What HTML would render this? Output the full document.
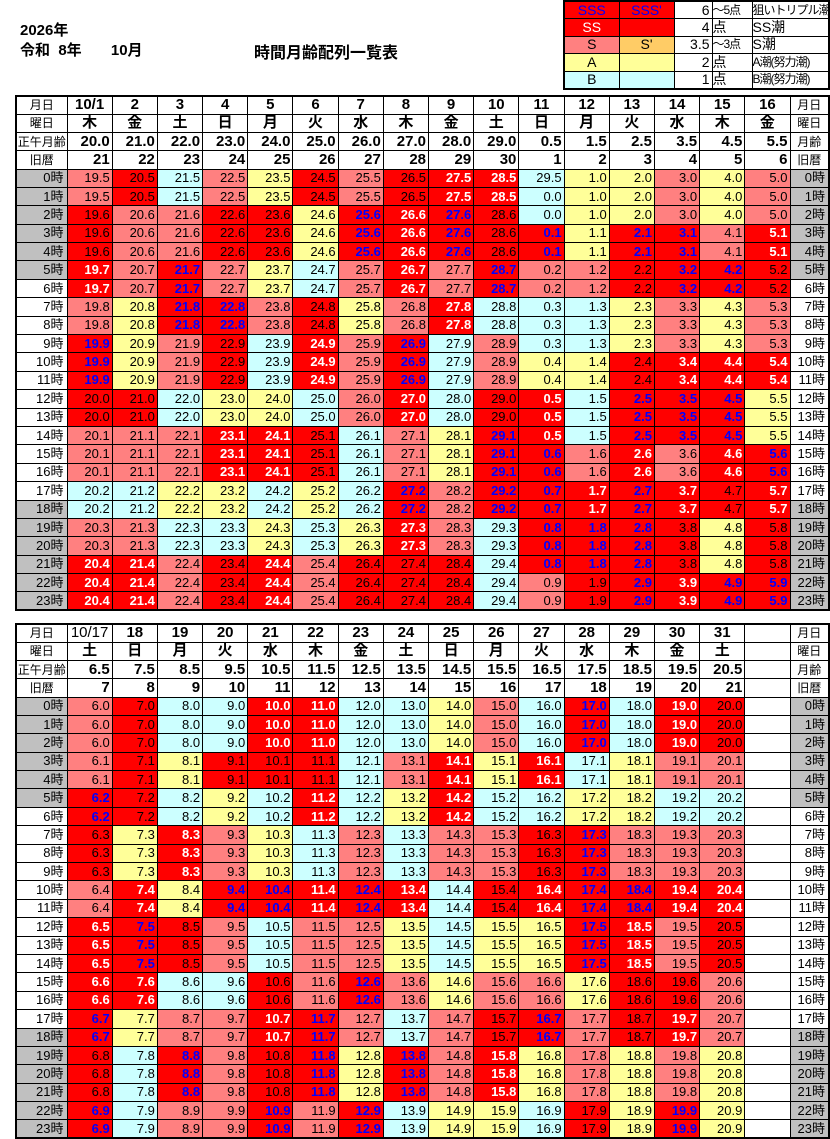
<!DOCTYPE html>
<html><head><meta charset="utf-8">
<style>
*{margin:0;padding:0;box-sizing:border-box}
body{width:830px;height:1138px;background:#fff;position:relative;overflow:hidden;font-family:"Liberation Sans","Noto Sans CJK JP",sans-serif;color:#000}
.t{position:absolute;font-weight:bold}
table{border-collapse:collapse;position:absolute;table-layout:fixed}
.m{left:15px;width:813px;border:2px solid #000}
.m td{border:1px solid #000;font-size:13px;text-align:right;padding:0 2px 0 0;line-height:16px;white-space:nowrap;overflow:hidden}
.m tr.h td{height:18.25px;font-weight:bold;font-size:15px}
.m tr.h td.l{font-weight:normal;font-size:12px;text-align:center;padding:0}
.m tr.d td{height:18.4px}
.m td.cn{text-align:center;padding:0}
.m td.k{text-align:center;font-size:16px;padding:0}
.m td.l{text-align:center;padding:0;font-size:12px}
.m td.hl{font-size:13px;padding-right:3px}
.g{background:#c0c0c0}
.p{background:#ff8080}
.r{background:#ff0000}
.w{background:#ff0000;color:#fff;font-weight:bold}
.b{background:#ff0000;color:#0000ff;font-weight:bold}
.y{background:#ffff99}
.c{background:#ccffff}
.o{background:#ffcc66}
.lg{left:563px;top:0;width:267px;border:2px solid #000}
.lg td{border:1px solid #000;height:17.6px;font-size:14px;line-height:15px;white-space:nowrap;overflow:hidden}
.lg td.x{font-size:12px;letter-spacing:-1px}
</style></head><body>
<div class="t" style="left:20px;top:19px;font-size:15px">2026年</div>
<div class="t" style="left:20px;top:39px;font-size:15px">令和&nbsp; 8年&nbsp;&nbsp;&nbsp;&nbsp;&nbsp;&nbsp; 10月</div>
<div class="t" style="left:254px;top:39px;font-size:16px">時間月齢配列一覧表</div>

<table class="lg">
<colgroup><col style="width:55px"><col style="width:55px"><col style="width:38px"><col style="width:40px"><col></colgroup>
<tr><td class="r" style="color:#00f;text-align:center">SSS</td><td class="r" style="color:#00f;text-align:center">SSS'</td><td style="text-align:right;padding-right:2px">6</td><td class="x">～5点</td><td class="x">狙いトリプル潮</td></tr>
<tr><td class="r" style="color:#fff;text-align:center">SS</td><td class="r"></td><td style="text-align:right;padding-right:2px">4</td><td>点</td><td>SS潮</td></tr>
<tr><td class="p" style="text-align:center">S</td><td class="o" style="text-align:center">S'</td><td style="text-align:right;padding-right:2px">3.5</td><td class="x">～3点</td><td>S潮</td></tr>
<tr><td class="y" style="text-align:center">A</td><td class="y"></td><td style="text-align:right;padding-right:2px">2</td><td>点</td><td class="x">A潮(努力潮)</td></tr>
<tr><td class="c" style="text-align:center">B</td><td class="c"></td><td style="text-align:right;padding-right:2px">1</td><td>点</td><td class="x">B潮(努力潮)</td></tr>
</table>

<table class="m" style="top:95px">
<colgroup><col style="width:51px"><col span="16" style="width:45.1875px"><col style="width:39px"></colgroup>
<tr class="h"><td class="l">月日</td><td class="cn">10/1</td><td class="cn">2</td><td class="cn">3</td><td class="cn">4</td><td class="cn">5</td><td class="cn">6</td><td class="cn">7</td><td class="cn">8</td><td class="cn">9</td><td class="cn">10</td><td class="cn">11</td><td class="cn">12</td><td class="cn">13</td><td class="cn">14</td><td class="cn">15</td><td class="cn">16</td><td class="l">月日</td></tr>
<tr class="h"><td class="l">曜日</td><td class="k">木</td><td class="k">金</td><td class="k">土</td><td class="k">日</td><td class="k">月</td><td class="k">火</td><td class="k">水</td><td class="k">木</td><td class="k">金</td><td class="k">土</td><td class="k">日</td><td class="k">月</td><td class="k">火</td><td class="k">水</td><td class="k">木</td><td class="k">金</td><td class="l">曜日</td></tr>
<tr class="h"><td class="l">正午月齢</td><td>20.0</td><td>21.0</td><td>22.0</td><td>23.0</td><td>24.0</td><td>25.0</td><td>26.0</td><td>27.0</td><td>28.0</td><td>29.0</td><td>0.5</td><td>1.5</td><td>2.5</td><td>3.5</td><td>4.5</td><td>5.5</td><td class="l">月齢</td></tr>
<tr class="h"><td class="l">旧暦</td><td>21</td><td>22</td><td>23</td><td>24</td><td>25</td><td>26</td><td>27</td><td>28</td><td>29</td><td>30</td><td>1</td><td>2</td><td>3</td><td>4</td><td>5</td><td>6</td><td class="l">旧暦</td></tr>
<tr class="d"><td class="hl g">0時</td><td class="p">19.5</td><td class="r">20.5</td><td class="c">21.5</td><td class="p">22.5</td><td class="y">23.5</td><td class="r">24.5</td><td class="p">25.5</td><td class="r">26.5</td><td class="w">27.5</td><td class="w">28.5</td><td class="c">29.5</td><td class="y">1.0</td><td class="y">2.0</td><td class="p">3.0</td><td class="y">4.0</td><td class="p">5.0</td><td class="hl g">0時</td></tr>
<tr class="d"><td class="hl g">1時</td><td class="p">19.5</td><td class="r">20.5</td><td class="c">21.5</td><td class="p">22.5</td><td class="y">23.5</td><td class="r">24.5</td><td class="p">25.5</td><td class="r">26.5</td><td class="w">27.5</td><td class="w">28.5</td><td class="c">0.0</td><td class="y">1.0</td><td class="y">2.0</td><td class="p">3.0</td><td class="y">4.0</td><td class="p">5.0</td><td class="hl g">1時</td></tr>
<tr class="d"><td class="hl g">2時</td><td class="r">19.6</td><td class="p">20.6</td><td class="p">21.6</td><td class="r">22.6</td><td class="r">23.6</td><td class="y">24.6</td><td class="b">25.6</td><td class="w">26.6</td><td class="b">27.6</td><td class="r">28.6</td><td class="c">0.0</td><td class="y">1.0</td><td class="y">2.0</td><td class="p">3.0</td><td class="y">4.0</td><td class="p">5.0</td><td class="hl g">2時</td></tr>
<tr class="d"><td class="hl g">3時</td><td class="r">19.6</td><td class="p">20.6</td><td class="p">21.6</td><td class="r">22.6</td><td class="r">23.6</td><td class="y">24.6</td><td class="b">25.6</td><td class="w">26.6</td><td class="b">27.6</td><td class="r">28.6</td><td class="b">0.1</td><td class="y">1.1</td><td class="b">2.1</td><td class="b">3.1</td><td class="p">4.1</td><td class="w">5.1</td><td class="hl g">3時</td></tr>
<tr class="d"><td class="hl g">4時</td><td class="r">19.6</td><td class="p">20.6</td><td class="p">21.6</td><td class="r">22.6</td><td class="r">23.6</td><td class="y">24.6</td><td class="b">25.6</td><td class="w">26.6</td><td class="b">27.6</td><td class="r">28.6</td><td class="b">0.1</td><td class="y">1.1</td><td class="b">2.1</td><td class="b">3.1</td><td class="p">4.1</td><td class="w">5.1</td><td class="hl g">4時</td></tr>
<tr class="d"><td class="hl g">5時</td><td class="w">19.7</td><td class="p">20.7</td><td class="b">21.7</td><td class="p">22.7</td><td class="y">23.7</td><td class="c">24.7</td><td class="p">25.7</td><td class="w">26.7</td><td class="p">27.7</td><td class="b">28.7</td><td class="p">0.2</td><td class="p">1.2</td><td class="r">2.2</td><td class="b">3.2</td><td class="b">4.2</td><td class="r">5.2</td><td class="hl g">5時</td></tr>
<tr class="d"><td class="hl">6時</td><td class="w">19.7</td><td class="p">20.7</td><td class="b">21.7</td><td class="p">22.7</td><td class="y">23.7</td><td class="c">24.7</td><td class="p">25.7</td><td class="w">26.7</td><td class="p">27.7</td><td class="b">28.7</td><td class="p">0.2</td><td class="p">1.2</td><td class="r">2.2</td><td class="b">3.2</td><td class="b">4.2</td><td class="r">5.2</td><td class="hl">6時</td></tr>
<tr class="d"><td class="hl">7時</td><td class="p">19.8</td><td class="y">20.8</td><td class="b">21.8</td><td class="b">22.8</td><td class="p">23.8</td><td class="r">24.8</td><td class="y">25.8</td><td class="p">26.8</td><td class="w">27.8</td><td class="c">28.8</td><td class="c">0.3</td><td class="c">1.3</td><td class="y">2.3</td><td class="p">3.3</td><td class="y">4.3</td><td class="p">5.3</td><td class="hl">7時</td></tr>
<tr class="d"><td class="hl">8時</td><td class="p">19.8</td><td class="y">20.8</td><td class="b">21.8</td><td class="b">22.8</td><td class="p">23.8</td><td class="r">24.8</td><td class="y">25.8</td><td class="p">26.8</td><td class="w">27.8</td><td class="c">28.8</td><td class="c">0.3</td><td class="c">1.3</td><td class="y">2.3</td><td class="p">3.3</td><td class="y">4.3</td><td class="p">5.3</td><td class="hl">8時</td></tr>
<tr class="d"><td class="hl">9時</td><td class="b">19.9</td><td class="y">20.9</td><td class="p">21.9</td><td class="r">22.9</td><td class="c">23.9</td><td class="w">24.9</td><td class="p">25.9</td><td class="b">26.9</td><td class="c">27.9</td><td class="p">28.9</td><td class="c">0.3</td><td class="c">1.3</td><td class="y">2.3</td><td class="p">3.3</td><td class="y">4.3</td><td class="p">5.3</td><td class="hl">9時</td></tr>
<tr class="d"><td class="hl">10時</td><td class="b">19.9</td><td class="y">20.9</td><td class="p">21.9</td><td class="r">22.9</td><td class="c">23.9</td><td class="w">24.9</td><td class="p">25.9</td><td class="b">26.9</td><td class="c">27.9</td><td class="p">28.9</td><td class="y">0.4</td><td class="y">1.4</td><td class="r">2.4</td><td class="w">3.4</td><td class="w">4.4</td><td class="w">5.4</td><td class="hl">10時</td></tr>
<tr class="d"><td class="hl">11時</td><td class="b">19.9</td><td class="y">20.9</td><td class="p">21.9</td><td class="r">22.9</td><td class="c">23.9</td><td class="w">24.9</td><td class="p">25.9</td><td class="b">26.9</td><td class="c">27.9</td><td class="p">28.9</td><td class="y">0.4</td><td class="y">1.4</td><td class="r">2.4</td><td class="w">3.4</td><td class="w">4.4</td><td class="w">5.4</td><td class="hl">11時</td></tr>
<tr class="d"><td class="hl">12時</td><td class="r">20.0</td><td class="r">21.0</td><td class="c">22.0</td><td class="y">23.0</td><td class="y">24.0</td><td class="c">25.0</td><td class="p">26.0</td><td class="w">27.0</td><td class="c">28.0</td><td class="r">29.0</td><td class="w">0.5</td><td class="c">1.5</td><td class="b">2.5</td><td class="b">3.5</td><td class="b">4.5</td><td class="y">5.5</td><td class="hl">12時</td></tr>
<tr class="d"><td class="hl">13時</td><td class="r">20.0</td><td class="r">21.0</td><td class="c">22.0</td><td class="y">23.0</td><td class="y">24.0</td><td class="c">25.0</td><td class="p">26.0</td><td class="w">27.0</td><td class="c">28.0</td><td class="r">29.0</td><td class="w">0.5</td><td class="c">1.5</td><td class="b">2.5</td><td class="b">3.5</td><td class="b">4.5</td><td class="y">5.5</td><td class="hl">13時</td></tr>
<tr class="d"><td class="hl">14時</td><td class="p">20.1</td><td class="p">21.1</td><td class="p">22.1</td><td class="w">23.1</td><td class="w">24.1</td><td class="r">25.1</td><td class="c">26.1</td><td class="p">27.1</td><td class="y">28.1</td><td class="b">29.1</td><td class="w">0.5</td><td class="c">1.5</td><td class="b">2.5</td><td class="b">3.5</td><td class="b">4.5</td><td class="y">5.5</td><td class="hl">14時</td></tr>
<tr class="d"><td class="hl">15時</td><td class="p">20.1</td><td class="p">21.1</td><td class="p">22.1</td><td class="w">23.1</td><td class="w">24.1</td><td class="r">25.1</td><td class="c">26.1</td><td class="p">27.1</td><td class="y">28.1</td><td class="b">29.1</td><td class="b">0.6</td><td class="p">1.6</td><td class="w">2.6</td><td class="p">3.6</td><td class="w">4.6</td><td class="b">5.6</td><td class="hl">15時</td></tr>
<tr class="d"><td class="hl">16時</td><td class="p">20.1</td><td class="p">21.1</td><td class="p">22.1</td><td class="w">23.1</td><td class="w">24.1</td><td class="r">25.1</td><td class="c">26.1</td><td class="p">27.1</td><td class="y">28.1</td><td class="b">29.1</td><td class="b">0.6</td><td class="p">1.6</td><td class="w">2.6</td><td class="p">3.6</td><td class="w">4.6</td><td class="b">5.6</td><td class="hl">16時</td></tr>
<tr class="d"><td class="hl">17時</td><td class="c">20.2</td><td class="c">21.2</td><td class="y">22.2</td><td class="y">23.2</td><td class="c">24.2</td><td class="y">25.2</td><td class="c">26.2</td><td class="b">27.2</td><td class="p">28.2</td><td class="b">29.2</td><td class="b">0.7</td><td class="w">1.7</td><td class="b">2.7</td><td class="w">3.7</td><td class="r">4.7</td><td class="w">5.7</td><td class="hl">17時</td></tr>
<tr class="d"><td class="hl g">18時</td><td class="c">20.2</td><td class="c">21.2</td><td class="y">22.2</td><td class="y">23.2</td><td class="c">24.2</td><td class="y">25.2</td><td class="c">26.2</td><td class="b">27.2</td><td class="p">28.2</td><td class="b">29.2</td><td class="b">0.7</td><td class="w">1.7</td><td class="b">2.7</td><td class="w">3.7</td><td class="r">4.7</td><td class="w">5.7</td><td class="hl g">18時</td></tr>
<tr class="d"><td class="hl g">19時</td><td class="p">20.3</td><td class="p">21.3</td><td class="c">22.3</td><td class="c">23.3</td><td class="y">24.3</td><td class="c">25.3</td><td class="y">26.3</td><td class="w">27.3</td><td class="p">28.3</td><td class="c">29.3</td><td class="b">0.8</td><td class="b">1.8</td><td class="b">2.8</td><td class="r">3.8</td><td class="y">4.8</td><td class="r">5.8</td><td class="hl g">19時</td></tr>
<tr class="d"><td class="hl g">20時</td><td class="p">20.3</td><td class="p">21.3</td><td class="c">22.3</td><td class="c">23.3</td><td class="y">24.3</td><td class="c">25.3</td><td class="y">26.3</td><td class="w">27.3</td><td class="p">28.3</td><td class="c">29.3</td><td class="b">0.8</td><td class="b">1.8</td><td class="b">2.8</td><td class="r">3.8</td><td class="y">4.8</td><td class="r">5.8</td><td class="hl g">20時</td></tr>
<tr class="d"><td class="hl g">21時</td><td class="w">20.4</td><td class="w">21.4</td><td class="p">22.4</td><td class="r">23.4</td><td class="w">24.4</td><td class="p">25.4</td><td class="r">26.4</td><td class="r">27.4</td><td class="r">28.4</td><td class="c">29.4</td><td class="b">0.8</td><td class="b">1.8</td><td class="b">2.8</td><td class="r">3.8</td><td class="y">4.8</td><td class="r">5.8</td><td class="hl g">21時</td></tr>
<tr class="d"><td class="hl g">22時</td><td class="w">20.4</td><td class="w">21.4</td><td class="p">22.4</td><td class="r">23.4</td><td class="w">24.4</td><td class="p">25.4</td><td class="r">26.4</td><td class="r">27.4</td><td class="r">28.4</td><td class="c">29.4</td><td class="p">0.9</td><td class="r">1.9</td><td class="b">2.9</td><td class="w">3.9</td><td class="b">4.9</td><td class="b">5.9</td><td class="hl g">22時</td></tr>
<tr class="d"><td class="hl g">23時</td><td class="w">20.4</td><td class="w">21.4</td><td class="p">22.4</td><td class="r">23.4</td><td class="w">24.4</td><td class="p">25.4</td><td class="r">26.4</td><td class="r">27.4</td><td class="r">28.4</td><td class="c">29.4</td><td class="p">0.9</td><td class="r">1.9</td><td class="b">2.9</td><td class="w">3.9</td><td class="b">4.9</td><td class="b">5.9</td><td class="hl g">23時</td></tr>
</table>

<table class="m" style="top:623px">
<colgroup><col style="width:51px"><col span="16" style="width:45.1875px"><col style="width:39px"></colgroup>
<tr class="h"><td class="l">月日</td><td class="cn" style="font-weight:normal">10/17</td><td class="cn">18</td><td class="cn">19</td><td class="cn">20</td><td class="cn">21</td><td class="cn">22</td><td class="cn">23</td><td class="cn">24</td><td class="cn">25</td><td class="cn">26</td><td class="cn">27</td><td class="cn">28</td><td class="cn">29</td><td class="cn">30</td><td class="cn">31</td><td></td><td class="l">月日</td></tr>
<tr class="h"><td class="l">曜日</td><td class="k">土</td><td class="k">日</td><td class="k">月</td><td class="k">火</td><td class="k">水</td><td class="k">木</td><td class="k">金</td><td class="k">土</td><td class="k">日</td><td class="k">月</td><td class="k">火</td><td class="k">水</td><td class="k">木</td><td class="k">金</td><td class="k">土</td><td></td><td class="l">曜日</td></tr>
<tr class="h"><td class="l">正午月齢</td><td>6.5</td><td>7.5</td><td>8.5</td><td>9.5</td><td>10.5</td><td>11.5</td><td>12.5</td><td>13.5</td><td>14.5</td><td>15.5</td><td>16.5</td><td>17.5</td><td>18.5</td><td>19.5</td><td>20.5</td><td></td><td class="l">月齢</td></tr>
<tr class="h"><td class="l">旧暦</td><td>7</td><td>8</td><td>9</td><td>10</td><td>11</td><td>12</td><td>13</td><td>14</td><td>15</td><td>16</td><td>17</td><td>18</td><td>19</td><td>20</td><td>21</td><td></td><td class="l">旧暦</td></tr>
<tr class="d"><td class="hl g">0時</td><td class="p">6.0</td><td class="r">7.0</td><td class="c">8.0</td><td class="c">9.0</td><td class="w">10.0</td><td class="w">11.0</td><td class="c">12.0</td><td class="c">13.0</td><td class="y">14.0</td><td class="p">15.0</td><td class="c">16.0</td><td class="b">17.0</td><td class="c">18.0</td><td class="w">19.0</td><td class="r">20.0</td><td></td><td class="hl g">0時</td></tr>
<tr class="d"><td class="hl g">1時</td><td class="p">6.0</td><td class="r">7.0</td><td class="c">8.0</td><td class="c">9.0</td><td class="w">10.0</td><td class="w">11.0</td><td class="c">12.0</td><td class="c">13.0</td><td class="y">14.0</td><td class="p">15.0</td><td class="c">16.0</td><td class="b">17.0</td><td class="c">18.0</td><td class="w">19.0</td><td class="r">20.0</td><td></td><td class="hl g">1時</td></tr>
<tr class="d"><td class="hl g">2時</td><td class="p">6.0</td><td class="r">7.0</td><td class="c">8.0</td><td class="c">9.0</td><td class="w">10.0</td><td class="w">11.0</td><td class="c">12.0</td><td class="c">13.0</td><td class="y">14.0</td><td class="p">15.0</td><td class="c">16.0</td><td class="b">17.0</td><td class="c">18.0</td><td class="w">19.0</td><td class="r">20.0</td><td></td><td class="hl g">2時</td></tr>
<tr class="d"><td class="hl g">3時</td><td class="p">6.1</td><td class="r">7.1</td><td class="y">8.1</td><td class="r">9.1</td><td class="r">10.1</td><td class="r">11.1</td><td class="c">12.1</td><td class="p">13.1</td><td class="w">14.1</td><td class="y">15.1</td><td class="w">16.1</td><td class="c">17.1</td><td class="y">18.1</td><td class="p">19.1</td><td class="p">20.1</td><td></td><td class="hl g">3時</td></tr>
<tr class="d"><td class="hl g">4時</td><td class="p">6.1</td><td class="r">7.1</td><td class="y">8.1</td><td class="r">9.1</td><td class="r">10.1</td><td class="r">11.1</td><td class="c">12.1</td><td class="p">13.1</td><td class="w">14.1</td><td class="y">15.1</td><td class="w">16.1</td><td class="c">17.1</td><td class="y">18.1</td><td class="p">19.1</td><td class="p">20.1</td><td></td><td class="hl g">4時</td></tr>
<tr class="d"><td class="hl g">5時</td><td class="b">6.2</td><td class="r">7.2</td><td class="c">8.2</td><td class="y">9.2</td><td class="c">10.2</td><td class="w">11.2</td><td class="c">12.2</td><td class="y">13.2</td><td class="w">14.2</td><td class="c">15.2</td><td class="c">16.2</td><td class="y">17.2</td><td class="y">18.2</td><td class="c">19.2</td><td class="c">20.2</td><td></td><td class="hl g">5時</td></tr>
<tr class="d"><td class="hl">6時</td><td class="b">6.2</td><td class="r">7.2</td><td class="c">8.2</td><td class="y">9.2</td><td class="c">10.2</td><td class="w">11.2</td><td class="c">12.2</td><td class="y">13.2</td><td class="w">14.2</td><td class="c">15.2</td><td class="c">16.2</td><td class="y">17.2</td><td class="y">18.2</td><td class="c">19.2</td><td class="c">20.2</td><td></td><td class="hl">6時</td></tr>
<tr class="d"><td class="hl">7時</td><td class="r">6.3</td><td class="y">7.3</td><td class="w">8.3</td><td class="p">9.3</td><td class="y">10.3</td><td class="c">11.3</td><td class="p">12.3</td><td class="c">13.3</td><td class="p">14.3</td><td class="p">15.3</td><td class="r">16.3</td><td class="b">17.3</td><td class="p">18.3</td><td class="p">19.3</td><td class="p">20.3</td><td></td><td class="hl">7時</td></tr>
<tr class="d"><td class="hl">8時</td><td class="r">6.3</td><td class="y">7.3</td><td class="w">8.3</td><td class="p">9.3</td><td class="y">10.3</td><td class="c">11.3</td><td class="p">12.3</td><td class="c">13.3</td><td class="p">14.3</td><td class="p">15.3</td><td class="r">16.3</td><td class="b">17.3</td><td class="p">18.3</td><td class="p">19.3</td><td class="p">20.3</td><td></td><td class="hl">8時</td></tr>
<tr class="d"><td class="hl">9時</td><td class="r">6.3</td><td class="y">7.3</td><td class="w">8.3</td><td class="p">9.3</td><td class="y">10.3</td><td class="c">11.3</td><td class="p">12.3</td><td class="c">13.3</td><td class="p">14.3</td><td class="p">15.3</td><td class="r">16.3</td><td class="b">17.3</td><td class="p">18.3</td><td class="p">19.3</td><td class="p">20.3</td><td></td><td class="hl">9時</td></tr>
<tr class="d"><td class="hl">10時</td><td class="p">6.4</td><td class="w">7.4</td><td class="y">8.4</td><td class="b">9.4</td><td class="b">10.4</td><td class="w">11.4</td><td class="b">12.4</td><td class="w">13.4</td><td class="c">14.4</td><td class="r">15.4</td><td class="w">16.4</td><td class="b">17.4</td><td class="b">18.4</td><td class="w">19.4</td><td class="w">20.4</td><td></td><td class="hl">10時</td></tr>
<tr class="d"><td class="hl">11時</td><td class="p">6.4</td><td class="w">7.4</td><td class="y">8.4</td><td class="b">9.4</td><td class="b">10.4</td><td class="w">11.4</td><td class="b">12.4</td><td class="w">13.4</td><td class="c">14.4</td><td class="r">15.4</td><td class="w">16.4</td><td class="b">17.4</td><td class="b">18.4</td><td class="w">19.4</td><td class="w">20.4</td><td></td><td class="hl">11時</td></tr>
<tr class="d"><td class="hl">12時</td><td class="w">6.5</td><td class="b">7.5</td><td class="r">8.5</td><td class="p">9.5</td><td class="c">10.5</td><td class="p">11.5</td><td class="p">12.5</td><td class="y">13.5</td><td class="c">14.5</td><td class="y">15.5</td><td class="y">16.5</td><td class="b">17.5</td><td class="w">18.5</td><td class="p">19.5</td><td class="r">20.5</td><td></td><td class="hl">12時</td></tr>
<tr class="d"><td class="hl">13時</td><td class="w">6.5</td><td class="b">7.5</td><td class="r">8.5</td><td class="p">9.5</td><td class="c">10.5</td><td class="p">11.5</td><td class="p">12.5</td><td class="y">13.5</td><td class="c">14.5</td><td class="y">15.5</td><td class="y">16.5</td><td class="b">17.5</td><td class="w">18.5</td><td class="p">19.5</td><td class="r">20.5</td><td></td><td class="hl">13時</td></tr>
<tr class="d"><td class="hl">14時</td><td class="w">6.5</td><td class="b">7.5</td><td class="r">8.5</td><td class="p">9.5</td><td class="c">10.5</td><td class="p">11.5</td><td class="p">12.5</td><td class="y">13.5</td><td class="c">14.5</td><td class="y">15.5</td><td class="y">16.5</td><td class="b">17.5</td><td class="w">18.5</td><td class="p">19.5</td><td class="r">20.5</td><td></td><td class="hl">14時</td></tr>
<tr class="d"><td class="hl">15時</td><td class="w">6.6</td><td class="w">7.6</td><td class="c">8.6</td><td class="c">9.6</td><td class="r">10.6</td><td class="p">11.6</td><td class="b">12.6</td><td class="p">13.6</td><td class="y">14.6</td><td class="p">15.6</td><td class="p">16.6</td><td class="y">17.6</td><td class="r">18.6</td><td class="r">19.6</td><td class="p">20.6</td><td></td><td class="hl">15時</td></tr>
<tr class="d"><td class="hl">16時</td><td class="w">6.6</td><td class="w">7.6</td><td class="c">8.6</td><td class="c">9.6</td><td class="r">10.6</td><td class="p">11.6</td><td class="b">12.6</td><td class="p">13.6</td><td class="y">14.6</td><td class="p">15.6</td><td class="p">16.6</td><td class="y">17.6</td><td class="r">18.6</td><td class="r">19.6</td><td class="p">20.6</td><td></td><td class="hl">16時</td></tr>
<tr class="d"><td class="hl">17時</td><td class="b">6.7</td><td class="y">7.7</td><td class="p">8.7</td><td class="p">9.7</td><td class="w">10.7</td><td class="b">11.7</td><td class="p">12.7</td><td class="c">13.7</td><td class="p">14.7</td><td class="r">15.7</td><td class="b">16.7</td><td class="p">17.7</td><td class="r">18.7</td><td class="w">19.7</td><td class="p">20.7</td><td></td><td class="hl">17時</td></tr>
<tr class="d"><td class="hl g">18時</td><td class="b">6.7</td><td class="y">7.7</td><td class="p">8.7</td><td class="p">9.7</td><td class="w">10.7</td><td class="b">11.7</td><td class="p">12.7</td><td class="c">13.7</td><td class="p">14.7</td><td class="r">15.7</td><td class="b">16.7</td><td class="p">17.7</td><td class="r">18.7</td><td class="w">19.7</td><td class="p">20.7</td><td></td><td class="hl g">18時</td></tr>
<tr class="d"><td class="hl g">19時</td><td class="r">6.8</td><td class="c">7.8</td><td class="b">8.8</td><td class="p">9.8</td><td class="r">10.8</td><td class="b">11.8</td><td class="y">12.8</td><td class="b">13.8</td><td class="p">14.8</td><td class="w">15.8</td><td class="y">16.8</td><td class="p">17.8</td><td class="y">18.8</td><td class="p">19.8</td><td class="y">20.8</td><td></td><td class="hl g">19時</td></tr>
<tr class="d"><td class="hl g">20時</td><td class="r">6.8</td><td class="c">7.8</td><td class="b">8.8</td><td class="p">9.8</td><td class="r">10.8</td><td class="b">11.8</td><td class="y">12.8</td><td class="b">13.8</td><td class="p">14.8</td><td class="w">15.8</td><td class="y">16.8</td><td class="p">17.8</td><td class="y">18.8</td><td class="p">19.8</td><td class="y">20.8</td><td></td><td class="hl g">20時</td></tr>
<tr class="d"><td class="hl g">21時</td><td class="r">6.8</td><td class="c">7.8</td><td class="b">8.8</td><td class="p">9.8</td><td class="r">10.8</td><td class="b">11.8</td><td class="y">12.8</td><td class="b">13.8</td><td class="p">14.8</td><td class="w">15.8</td><td class="y">16.8</td><td class="p">17.8</td><td class="y">18.8</td><td class="p">19.8</td><td class="y">20.8</td><td></td><td class="hl g">21時</td></tr>
<tr class="d"><td class="hl g">22時</td><td class="b">6.9</td><td class="c">7.9</td><td class="p">8.9</td><td class="p">9.9</td><td class="b">10.9</td><td class="p">11.9</td><td class="b">12.9</td><td class="c">13.9</td><td class="y">14.9</td><td class="y">15.9</td><td class="c">16.9</td><td class="r">17.9</td><td class="y">18.9</td><td class="b">19.9</td><td class="y">20.9</td><td></td><td class="hl g">22時</td></tr>
<tr class="d"><td class="hl g">23時</td><td class="b">6.9</td><td class="c">7.9</td><td class="p">8.9</td><td class="p">9.9</td><td class="b">10.9</td><td class="p">11.9</td><td class="b">12.9</td><td class="c">13.9</td><td class="y">14.9</td><td class="y">15.9</td><td class="c">16.9</td><td class="r">17.9</td><td class="y">18.9</td><td class="b">19.9</td><td class="y">20.9</td><td></td><td class="hl g">23時</td></tr>
</table>
</body></html>
